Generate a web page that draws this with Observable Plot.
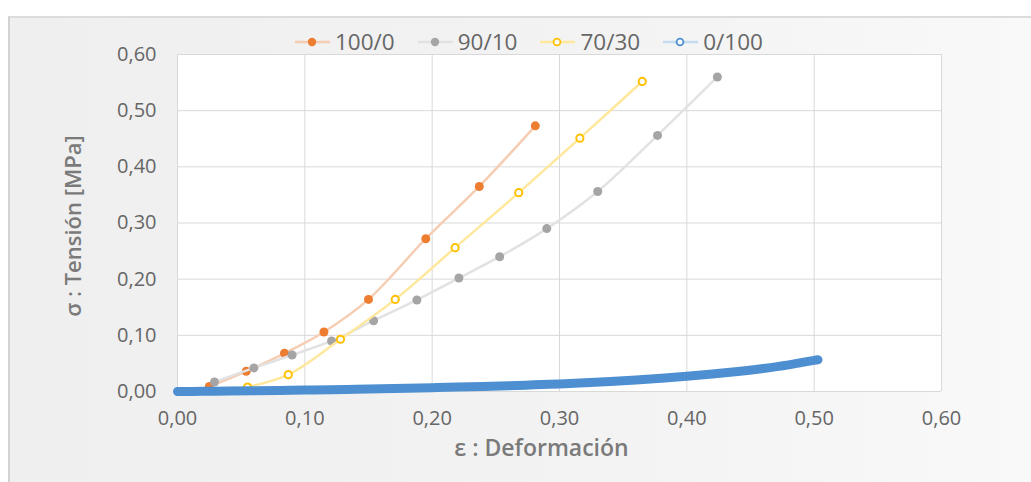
<!DOCTYPE html>
<html>
<head>
<meta charset="utf-8">
<script src="https://cdn.jsdelivr.net/npm/d3@7"></script>
<script src="https://cdn.jsdelivr.net/npm/@observablehq/plot@0.6"></script>
<style>
  html, body { margin: 0; padding: 0; background: #ffffff; width: 1031px; height: 482px; overflow: hidden; }
  #bg { position: absolute; left: 8px; top: 16px; width: 1023px; height: 466px;
        background: linear-gradient(to right, #efefef, #f3f3f3 60%, #f9f9f9);
        border-left: 2px solid #d2d2d2; border-top: 2px solid #dcdcdc; box-sizing: border-box; }
  #chart { position: absolute; left: 0; top: 0; }
  #legend { position: absolute; left: 295px; top: 26px; display: flex; align-items: center;
            font-family: "Open Sans", sans-serif; font-size: 22.5px; color: #666; }
  .item { display: flex; align-items: center; margin-right: 23px; }
  .item svg { margin-right: 4px; }
</style>
</head>
<body>
<div id="bg"></div>
<div id="chart"></div>
<div id="legend"></div>
<script>
// ---- data ----
const seriesNames = ["100/0", "90/10", "70/30", "0/100"];

const eps100 = [0.025, 0.054, 0.084, 0.115, 0.150, 0.195, 0.237, 0.281];
const sig100 = [0.009, 0.036, 0.068, 0.106, 0.164, 0.272, 0.365, 0.473];

const eps90 = [0.029, 0.060, 0.090, 0.121, 0.154, 0.188, 0.221, 0.253, 0.290, 0.330, 0.377, 0.424];
const sig90 = [0.017, 0.042, 0.065, 0.090, 0.126, 0.163, 0.202, 0.240, 0.290, 0.356, 0.456, 0.560];

const eps70 = [0.055, 0.087, 0.128, 0.171, 0.218, 0.268, 0.316, 0.365];
const sig70 = [0.008, 0.030, 0.093, 0.164, 0.256, 0.354, 0.451, 0.552];

const eps0 = [0.000, 0.020, 0.040, 0.060, 0.080, 0.100, 0.120, 0.140, 0.160, 0.180, 0.200, 0.220, 0.240,
              0.260, 0.280, 0.300, 0.320, 0.340, 0.360, 0.380, 0.400, 0.420, 0.440, 0.460, 0.480, 0.500, 0.503];
const sig0 = [0.0000, 0.0003, 0.0007, 0.0012, 0.0018, 0.0025, 0.0032, 0.0040, 0.0048, 0.0057, 0.0067, 0.0078, 0.0090,
              0.0103, 0.0118, 0.0135, 0.0155, 0.0178, 0.0204, 0.0235, 0.0270, 0.0310, 0.0356, 0.0410, 0.0475, 0.0555, 0.0565];

const xTicks = [0, 0.1, 0.2, 0.3, 0.4, 0.5, 0.6];
const yTicks = [0, 0.1, 0.2, 0.3, 0.4, 0.5, 0.6];
const xTitle = "ε : Deformación";
const yTitle = "σ : Tensión [MPa]";

const markerColors = ["#ED7D31", "#A5A5A5", "#FFC000", "#4D8FD1"];
const lineColors = ["#F6CDB3", "#E2E2E2", "#FFE79C", "#C5DBF0"];

// ---- build tables ----
const zip = (xs, ys) => xs.map((x, i) => ({x, y: ys[i]}));
const d100 = zip(eps100, sig100);
const d90 = zip(eps90, sig90);
const d70 = zip(eps70, sig70);
const d0 = zip(eps0, sig0);

const fmt = d => d.toFixed(2).replace(".", ",");

const chart = Plot.plot({
  width: 1031,
  height: 482,
  marginLeft: 177,
  marginRight: 90,
  marginTop: 54,
  marginBottom: 91,
  style: {background: "transparent", fontFamily: "Open Sans, sans-serif", fontSize: "20px", color: "#666"},
  x: {domain: [0, 0.6]},
  y: {domain: [0, 0.6]},
  marks: [
    Plot.frame({fill: "white", stroke: null}),
    Plot.gridX(xTicks, {stroke: "#d9d9d9", strokeOpacity: 1}),
    Plot.gridY(yTicks, {stroke: "#d9d9d9", strokeOpacity: 1}),
    Plot.axisX({ticks: xTicks, tickFormat: fmt, tickSize: 0, tickPadding: 19, label: null}),
    Plot.axisY({ticks: yTicks, tickFormat: fmt, tickSize: 0, tickPadding: 21, label: null}),
    Plot.line(d100, {x: "x", y: "y", stroke: lineColors[0], strokeWidth: 2.5, curve: "catmull-rom"}),
    Plot.dot(d100, {x: "x", y: "y", r: 4.5, fill: markerColors[0], stroke: "none"}),
    Plot.line(d90, {x: "x", y: "y", stroke: lineColors[1], strokeWidth: 2.5, curve: "catmull-rom"}),
    Plot.dot(d90, {x: "x", y: "y", r: 4.5, fill: markerColors[1], stroke: "none"}),
    Plot.line(d70, {x: "x", y: "y", stroke: lineColors[2], strokeWidth: 2.5, curve: "catmull-rom"}),
    Plot.dot(d70, {x: "x", y: "y", r: 3.6, fill: "white", stroke: markerColors[2], strokeWidth: 2}),
    Plot.line(d0, {x: "x", y: "y", stroke: markerColors[3], strokeWidth: 9, strokeLinecap: "round", curve: "catmull-rom"}),
    Plot.text([xTitle], {frameAnchor: "bottom", textAnchor: "middle", dy: 64, dx: -18, fontWeight: 600, fontSize: 23, fill: "#7a7a7a"}),
    Plot.text([yTitle], {frameAnchor: "left", textAnchor: "middle", dx: -104, dy: 3, rotate: -90, fontWeight: 600, fontSize: 22, fill: "#7a7a7a"})
  ]
});
document.getElementById("chart").append(chart);

// ---- legend ----
const legend = document.getElementById("legend");
seriesNames.forEach((name, i) => {
  const item = document.createElement("div");
  item.className = "item";
  const open = i >= 2;
  item.innerHTML =
    `<svg width="36" height="12" viewBox="0 0 36 12">
       <line x1="0" y1="6" x2="35" y2="6" stroke="${lineColors[i]}" stroke-width="2.5"/>
       <circle cx="17" cy="6" r="${open ? 3.4 : 4.2}" fill="${open ? "white" : markerColors[i]}"
               stroke="${open ? markerColors[i] : "none"}" stroke-width="${open ? 1.8 : 0}"/>
     </svg><span>${name}</span>`;
  legend.append(item);
});
</script>
</body>
</html>
